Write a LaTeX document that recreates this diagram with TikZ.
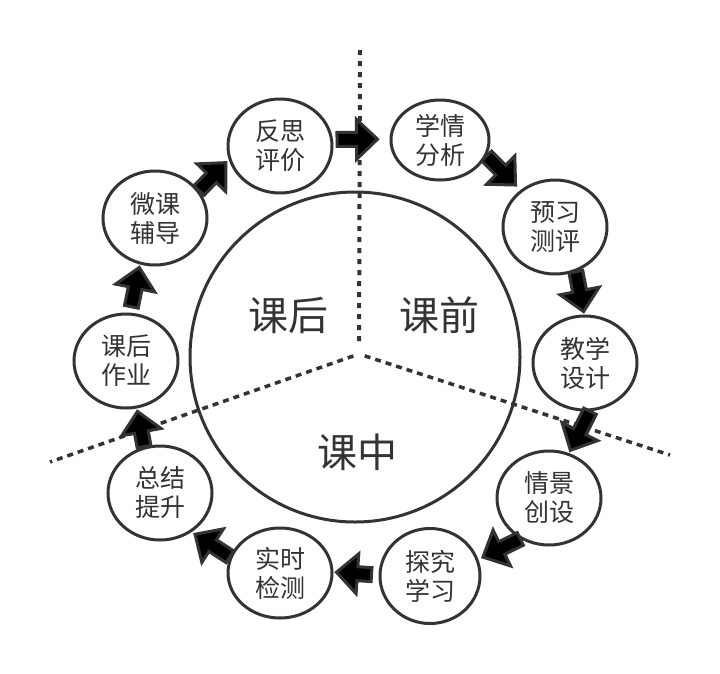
\documentclass[tikz,border=0pt]{standalone}
\usepackage{fontspec}
\newfontfamily\cjk{Noto Sans CJK SC}
\usetikzlibrary{calc,shapes.geometric}
\definecolor{ink}{HTML}{333333}

% block arrow drawn as a closed outline between two points
\tikzset{
  blk tail/.store in=\blkTail, blk tail=0pt,
  blk tip/.store in=\blkTip, blk tip=3pt,
  blk/.style={draw=ink, fill=black, line width=3pt, line join=miter, miter limit=10,
    to path={let \p1=($(\tikztostart)!\blkTail!(\tikztotarget)$),
                 \p2=($(\tikztotarget)!\blkTip!(\tikztostart)$) in
      ($(\p1)!7pt!90:(\p2)$)
      -- ($(\p2)!21pt!(\p1)!7pt!90:(\p2)$)
      -- ($(\p2)!21pt!(\p1)!20pt!90:(\p2)$)
      -- (\p2)
      -- ($(\p2)!21pt!(\p1)!20pt!-90:(\p2)$)
      -- ($(\p2)!21pt!(\p1)!7pt!-90:(\p2)$)
      -- ($(\p1)!7pt!-90:(\p2)$) -- cycle}}
}

\begin{document}
\begin{tikzpicture}[x=1pt,y=-1pt,
  stage/.style={ellipse, draw=ink, line width=3pt, fill=white,
    minimum width=104pt, minimum height=94pt, inner sep=0pt,
    align=center, text=ink, font=\cjk\fontsize{25}{29}\selectfont},
  phase/.style={text=ink, font=\cjk\fontsize{40}{44}\selectfont},
  divider/.style={draw=ink, line width=3.5pt, dash pattern=on 6pt off 5pt},
  hub/.style={circle, draw=ink, line width=3pt, minimum size=330pt, inner sep=0pt}]

\path[use as bounding box] (0,0) rectangle (720,673);

% three sector dividers meeting at the hub
\coordinate (o) at (359,354);
\coordinate (top) at (360,50);
\coordinate (lft) at (50,462);
\coordinate (rgt) at (670,455);
\draw[divider, dash pattern=on 5pt off 6pt, line width=4pt] (top) -- ($(o)!8pt!(top)$);
\draw[divider] ($(o)!6pt!(lft)$) -- (lft);
\draw[divider] ($(o)!6pt!(rgt)$) -- (rgt);

% central circle and phase labels
\node[hub] (hub) at (355,357) {};
\node[phase] (after) at (288,315) {课后};
\node[phase] (before) at (439,315) {课前};
\node[phase] (during) at (357,452) {课中};

% stages of the cycle
\node[stage] (fs) at (280,146) {反思\\评价};
\node[stage, minimum width=98pt, minimum height=80pt] (xq) at (440,140) {学情\\分析};
\node[stage] (yx) at (555,227) {预习\\测评};
\node[stage] (jx) at (585,363) {教学\\设计};
\node[stage] (qj) at (549,498) {情景\\创设};
\node[stage, minimum width=100pt, minimum height=95pt] (tj) at (430,576) {探究\\学习};
\node[stage, minimum height=90pt] (ss) at (280,573) {实时\\检测};
\node[stage] (zj) at (160,493) {总结\\提升};
\node[stage] (kh) at (126,361) {课后\\作业};
\node[stage] (wk) at (155,218) {微课\\辅导};

% flow between stages
\draw[blk, blk tail=4pt, blk tip=12pt] (fs.7) to (xq.179);
\draw[blk, blk tip=7pt] (xq.-19) to (yx.133);
\draw[blk] (yx.-65) to (jx.91);
\draw[blk] (jx.-84) to (qj.66);
\draw[blk, blk tip=5pt] (qj.235) to (tj.19);
\draw[blk, blk tail=7pt] (tj.179) to (ss.1);
\draw[blk, blk tip=4pt] (ss.162) to (zj.-51);
\draw[blk] (zj.109) to (kh.-77);
\draw[blk, blk tail=6pt] (kh.85) to (wk.-108);
\draw[blk, blk tip=4pt] (wk.32) to (fs.195);

\end{tikzpicture}
\end{document}
